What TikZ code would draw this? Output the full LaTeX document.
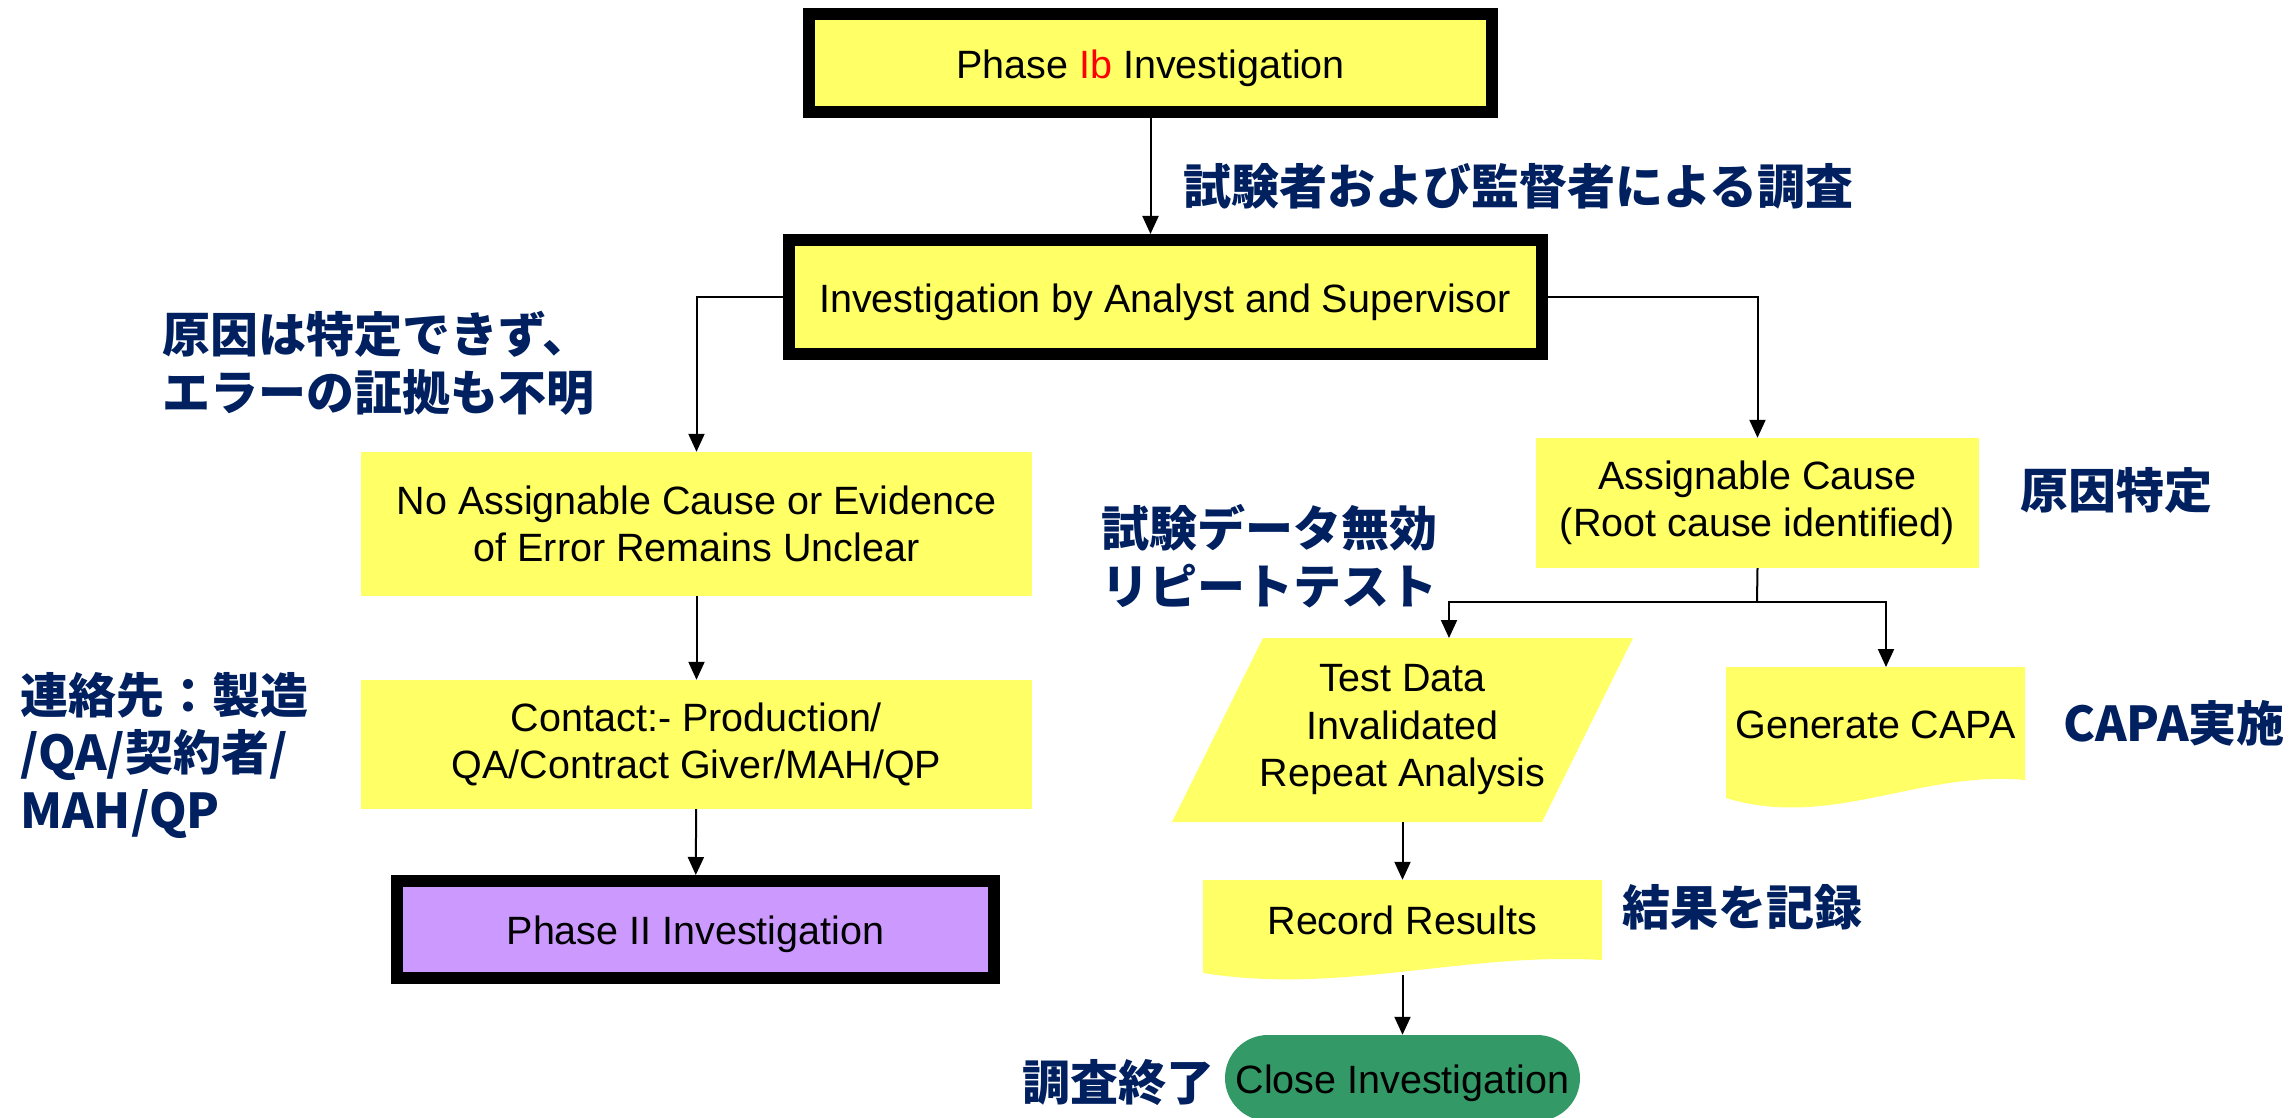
\documentclass[tikz,border=0pt]{standalone}
\usepackage{fontspec}
\setmainfont{Liberation Sans}
\newfontfamily\jpfont{Noto Sans CJK JP}
\usetikzlibrary{arrows.meta}
\definecolor{boxyellow}{RGB}{255,255,102}
\definecolor{boxpurple}{RGB}{204,153,255}
\definecolor{boxgreen}{RGB}{51,153,102}
\definecolor{navy}{RGB}{0,32,96}
\newcommand\lowtext[1]{\raisebox{-5pt}[28.8pt][8.3pt]{#1}}
\begin{document}
\begin{tikzpicture}[x=1pt,y=-1pt,
  en/.style={font=\fontsize{39.5}{47.5}\selectfont, align=center, inner sep=0pt},
  jp/.style={font=\jpfont\bfseries\fontsize{48}{57.5}\selectfont, text=navy, align=left, inner sep=0pt},
  thickbox/.style={en, draw=black, line width=12pt},
  plainbox/.style={en, fill=boxyellow},
  arr/.style={-{Triangle[length=18pt,width=16pt]}, line width=2pt},
  conn/.style={line width=2pt}]
\useasboundingbox (0,0) rectangle (2295,1118);

% main column
\node[thickbox, fill=boxyellow, minimum width=683pt, minimum height=98pt] (p1) at (1150.5,63) {\lowtext{Phase {\color{red}Ib} Investigation}};
\node[thickbox, fill=boxyellow, minimum width=753pt, minimum height=114pt] (inv) at (1165,297) {\lowtext{Investigation by Analyst and Supervisor}};

% left column
\node[plainbox, minimum width=671pt, minimum height=144pt] (na) at (696.5,524) {No Assignable Cause or Evidence\\of Error Remains Unclear};
\node[plainbox, minimum width=671pt, minimum height=129pt] (ct) at (696.5,744.5) {Contact:- Production/\\QA/Contract Giver/MAH/QP};
\node[thickbox, fill=boxpurple, minimum width=597pt, minimum height=97pt] (p2) at (695.5,929.5) {\lowtext{Phase II Investigation}};

% right column
\node[plainbox, minimum width=443pt, minimum height=130pt] (ac) at (1757.5,503) {Assignable Cause\\(Root cause identified)};

\fill[boxyellow] (1263,638) -- (1633,638) -- (1542,822) -- (1172,822) -- cycle;
\node[en, minimum height=184pt] (td) at (1402.5,730) {Test Data\\Invalidated\\Repeat Analysis};

\fill[boxyellow] (1726,667) -- (2025,667) -- (2025,780) .. controls (1920,770) and (1830,830) .. (1726,798) -- cycle;
\node[en, minimum height=116pt] (gc) at (1875.5,725) {Generate CAPA};

\fill[boxyellow] (1203,880) -- (1602,880) -- (1602,960) .. controls (1462,952) and (1342,995) .. (1203,973) -- cycle;
\node[en, minimum height=80pt] (rr) at (1402.5,920) {Record Results};

\node[en, fill=boxgreen, rounded corners=43pt, minimum width=355pt, minimum height=86pt] (cl) at (1402.5,1078) {\lowtext{Close Investigation}};

% coordinates for connector ends
\coordinate (br) at (1757,602);
\coordinate (tdtop) at (1449,638);
\coordinate (gctop) at (1886,667);
\coordinate (rrbot) at (1402.5,975);

% connectors
\draw[arr] (p1.south) -- (p1.south |- inv.north);
\draw[arr] (inv.west) -| (na.north);
\draw[arr] (inv.east) -| (ac.north);
\draw[arr] (na) -- (ct);
\draw[arr] (ct) -- (p2);
\draw[conn] (ac.south) -- (br);
\draw[arr] (br) -| (tdtop);
\draw[arr] (br) -| (gctop);
\draw[arr] (td.south) -- (rr.north);
\draw[arr] (rrbot) -- (cl.north);

% Japanese annotations
\node[jp, anchor=west] (l1) at (1183,186) {試験者および監督者による調査};
\node[jp, anchor=west] (l2) at (162,363.5) {原因は特定できず、\\エラーの証拠も不明};
\node[jp, anchor=west] (l3) at (20,755.5) {連絡先：製造\\/QA/契約者/\\MAH/QP};
\node[jp, anchor=west] (l4) at (2020,490) {原因特定};
\node[jp, anchor=west] (l5) at (1101,556) {試験データ無効\\リピートテスト};
\node[jp, anchor=west] (l6) at (2063,723) {CAPA実施};
\node[jp, anchor=west] (l7) at (1622,907) {結果を記録};
\node[jp, anchor=east] (l8) at (1215,1083) {調査終了};
\end{tikzpicture}
\end{document}
